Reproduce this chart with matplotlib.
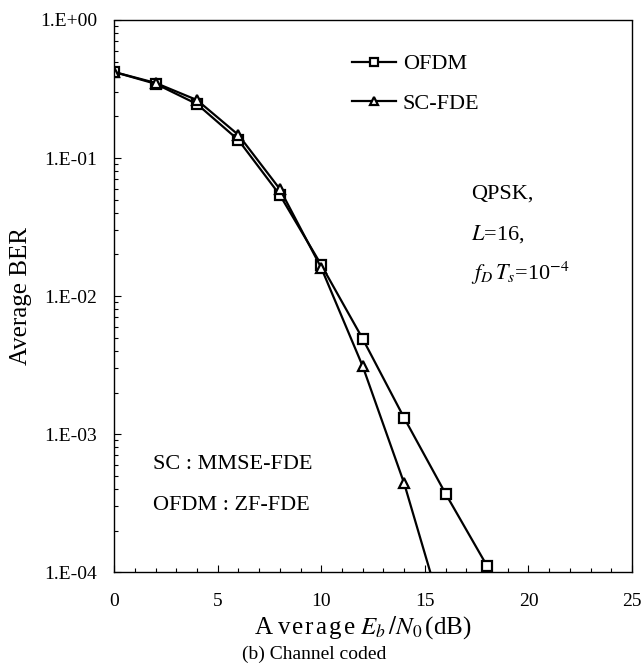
import matplotlib
matplotlib.use('Agg')
import matplotlib.pyplot as plt
import numpy as np
from matplotlib.ticker import FixedLocator, FuncFormatter, LogLocator, MultipleLocator

plt.rcParams['font.family'] = ['Liberation Serif', 'DejaVu Serif']
plt.rcParams['mathtext.fontset'] = 'stix'

# data (last points fall below the axis and get clipped)
snr = [0, 2, 4, 6, 8, 10, 12, 14, 16, 18, 20]
ber_ofdm = [0.42, 0.345, 0.246, 0.135, 0.054, 0.0168, 0.0049, 0.00131, 0.00037, 0.000111, 0.000033]
snr_sc = [0, 2, 4, 6, 8, 10, 12, 14, 16]
ber_sc = [0.42, 0.35, 0.263, 0.147, 0.0596, 0.016, 0.0031, 0.00044, 0.000042]

fig = plt.figure(figsize=(6.41, 6.66), dpi=100)
ax = fig.add_axes([0.178, 0.141, 0.808, 0.829])

ax.plot(snr, ber_ofdm, color='black', lw=1.6, marker='s', ms=7, mfc='white',
        mec='black', mew=1.6, label='OFDM')
ax.plot(snr_sc, ber_sc, color='black', lw=1.6, marker='^', ms=7.5, mfc='white',
        mec='black', mew=1.6, label='SC-FDE')

ax.set_yscale('log')
ax.set_xlim(0, 25)
ax.set_ylim(1e-4, 1)

ax.xaxis.set_major_locator(MultipleLocator(5))
ax.xaxis.set_minor_locator(MultipleLocator(1))
ax.yaxis.set_major_locator(FixedLocator([1e-4, 1e-3, 1e-2, 1e-1, 1]))
ax.yaxis.set_minor_locator(LogLocator(base=10, subs=np.arange(2, 10)))
ax.yaxis.set_major_formatter(FuncFormatter(lambda v, p: '1.E%+03d' % int(round(np.log10(v)))))
ax.tick_params(which='both', direction='in', top=False, right=False, labelsize=14)
ax.tick_params(which='major', length=5, width=0.8)
ax.tick_params(which='minor', length=3, width=0.8)
ax.tick_params(axis='y', pad=12)
ax.tick_params(axis='x', pad=15)

for s in ax.spines.values():
    s.set_linestyle((0, (1, 1)))
    s.set_linewidth(1.0)

ax.set_ylabel('Average BER', fontsize=18, labelpad=6)
ax.set_xlabel('A\u2009v\u200ae\u200ar\u200aa\u200ag\u200ae $E_b\\,/N_0\\,$(dB)', fontsize=18)
ax.xaxis.set_label_coords(0.48, -0.077)
fig.text(0.49, 0.01, '(b) Channel coded', ha='center', fontsize=14)

ax.legend(loc='upper left', bbox_to_anchor=(0.42, 0.975), frameon=False, fontsize=16,
          handlelength=2.0, handletextpad=0.3, labelspacing=0.85, markerscale=0.85)

ax.text(0.69, 0.676, 'QPSK,', transform=ax.transAxes, fontsize=16)
ax.text(0.69, 0.603, r'$L$=16,', transform=ax.transAxes, fontsize=16)
ax.text(0.69, 0.529, r'$f_D\,T_s$=10$^{-4}$', transform=ax.transAxes, fontsize=16)

ax.text(0.075, 0.186, 'SC : MMSE-FDE', transform=ax.transAxes, fontsize=16)
ax.text(0.075, 0.113, 'OFDM : ZF-FDE', transform=ax.transAxes, fontsize=16)

fig.savefig('out.png', dpi=100)
